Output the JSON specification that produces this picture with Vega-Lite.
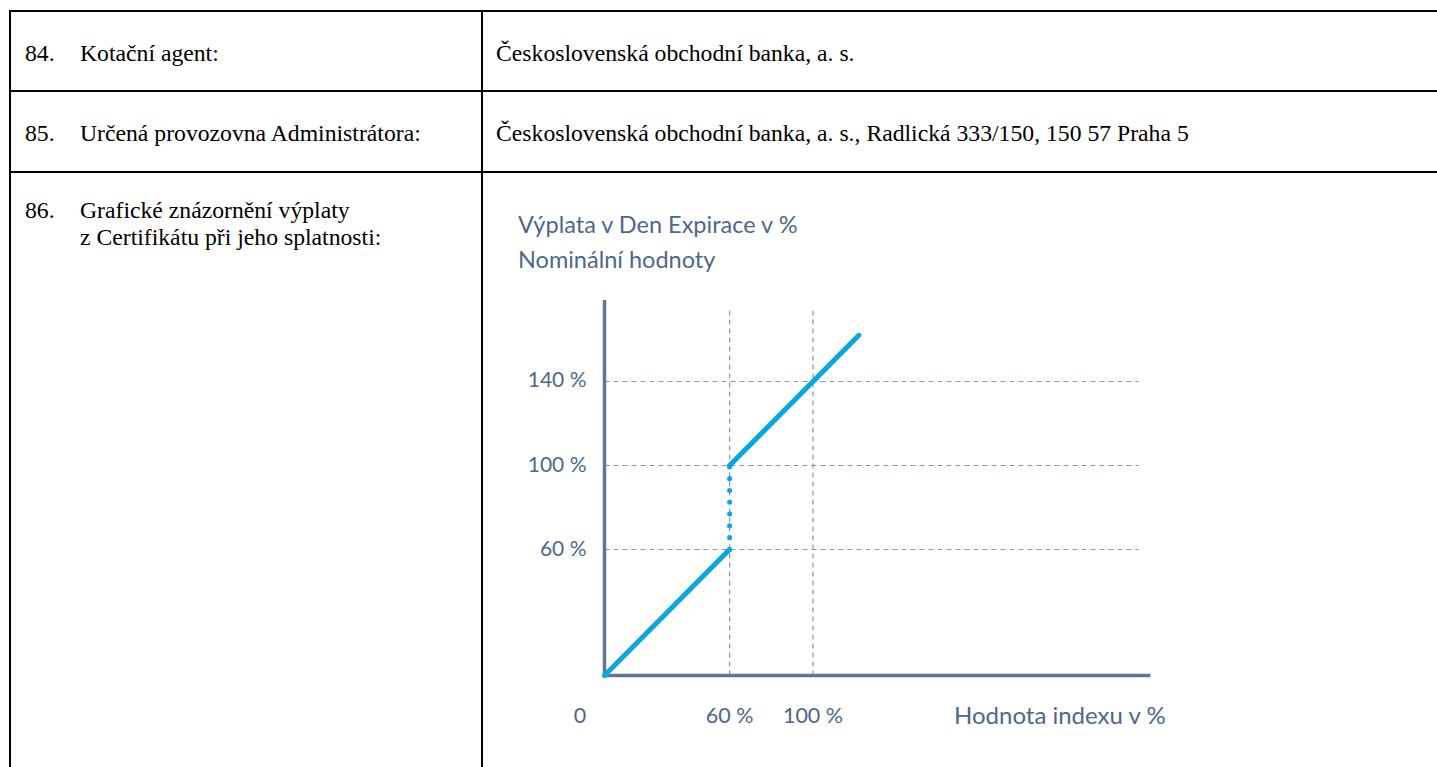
{
  "$schema": "https://vega.github.io/schema/vega-lite/v6.json",
  "padding": {"left": 9, "top": 10, "right": 0, "bottom": 0},
  "background": "white",
  "columns": 2,
  "spacing": 0,
  "bounds": "flush",
  "align": "each",
  "config": {
    "view": {"stroke": "black", "strokeWidth": 2, "fill": "white"},
    "concat": {"spacing": 0}
  },
  "datasets": {
    "grid_h": [
      {"pct": 60, "from": 0, "to": 256},
      {"pct": 100, "from": 0, "to": 256},
      {"pct": 140, "from": 0, "to": 256}
    ],
    "grid_v": [
      {"pct": 60, "from": 0, "to": 174},
      {"pct": 100, "from": 0, "to": 174}
    ],
    "axes": [
      {"axis": "x", "x": 0, "y": 0, "x2": 261, "y2": 0, "title": "Hodnota indexu v %"},
      {"axis": "y", "x": 0, "y": 0, "x2": 0, "y2": 178, "title": ["Výplata v Den Expirace v %", "Nominální hodnoty"]}
    ],
    "payoff": [
      {"index": 0, "payout": 0, "part": "below"},
      {"index": 60, "payout": 60, "part": "below"},
      {"index": 60, "payout": 100, "part": "above"},
      {"index": 122, "payout": 162, "part": "above"}
    ],
    "jump": [
      {"index": 60, "payout": 60},
      {"index": 60, "payout": 100}
    ],
    "ylabels": [
      {"pct": 60, "label": "60 %"},
      {"pct": 100, "label": "100 %"},
      {"pct": 140, "label": "140 %"}
    ],
    "xlabels": [
      {"pct": 60, "label": "60 %"},
      {"pct": 100, "label": "100 %"}
    ],
    "origin": [{"pct": 0, "label": "0"}]
  },
  "concat": [
    {
      "width": 472, "height": 80,
      "view": {"stroke": "black", "strokeWidth": 2, "fill": "white"},
      "data": {"values": [{"num": "84.", "label": "Kotační agent:"}]},
      "layer": [
        {"mark": {"type": "text", "x": 15, "y": 50, "align": "left", "baseline": "alphabetic", "font": "Liberation Serif", "fontSize": 23.7, "color": "black"}, "encoding": {"text": {"field": "num"}}},
        {"mark": {"type": "text", "x": 70, "y": 50, "align": "left", "baseline": "alphabetic", "font": "Liberation Serif", "fontSize": 23.7, "color": "black"}, "encoding": {"text": {"field": "label"}}}
      ]
    },
    {
      "width": 960, "height": 80,
      "view": {"stroke": "black", "strokeWidth": 2, "fill": "white"},
      "data": {"values": [{"value": "Československá obchodní banka, a. s."}]},
      "mark": {"type": "text", "x": 14, "y": 50, "align": "left", "baseline": "alphabetic", "font": "Liberation Serif", "fontSize": 23.7, "color": "black"},
      "encoding": {"text": {"field": "value"}}
    },
    {
      "width": 472, "height": 81,
      "view": {"stroke": "black", "strokeWidth": 2, "fill": "white"},
      "data": {"values": [{"num": "85.", "label": "Určená provozovna Administrátora:"}]},
      "layer": [
        {"mark": {"type": "text", "x": 15, "y": 50, "align": "left", "baseline": "alphabetic", "font": "Liberation Serif", "fontSize": 23.7, "color": "black"}, "encoding": {"text": {"field": "num"}}},
        {"mark": {"type": "text", "x": 70, "y": 50, "align": "left", "baseline": "alphabetic", "font": "Liberation Serif", "fontSize": 23.7, "color": "black"}, "encoding": {"text": {"field": "label"}}}
      ]
    },
    {
      "width": 960, "height": 81,
      "view": {"stroke": "black", "strokeWidth": 2, "fill": "white"},
      "data": {"values": [{"value": "Československá obchodní banka, a. s., Radlická 333/150, 150 57 Praha 5"}]},
      "mark": {"type": "text", "x": 14, "y": 50, "align": "left", "baseline": "alphabetic", "font": "Liberation Serif", "fontSize": 23.7, "color": "black"},
      "encoding": {"text": {"field": "value"}}
    },
    {
      "width": 472, "height": 600,
      "view": {"stroke": "black", "strokeWidth": 2, "fill": "white"},
      "data": {"values": [{"num": "86.", "label": ["Grafické znázornění výplaty", "z Certifikátu při jeho splatnosti:"]}]},
      "layer": [
        {"mark": {"type": "text", "x": 15, "y": 46, "align": "left", "baseline": "alphabetic", "font": "Liberation Serif", "fontSize": 23.7, "color": "black"}, "encoding": {"text": {"field": "num"}}},
        {"mark": {"type": "text", "x": 70, "y": 46, "align": "left", "baseline": "alphabetic", "font": "Liberation Serif", "fontSize": 23.7, "lineHeight": 26.5, "color": "black"}, "encoding": {"text": {"field": "label"}}}
      ]
    },
    {
      "width": 960, "height": 600,
      "view": {"stroke": "black", "strokeWidth": 2, "fill": "white"},
      "layer": [
        {
          "data": {"name": "grid_h"},
          "mark": {"type": "rule", "color": "#8496b3", "strokeWidth": 1.2, "strokeDash": [5, 4]},
          "encoding": {
            "y": {"field": "pct", "type": "quantitative", "scale": {"domain": [-45.95, 239.76], "nice": false, "zero": false}, "axis": null},
            "x": {"field": "from", "type": "quantitative", "scale": {"domain": [-58.75, 401.68], "nice": false, "zero": false}, "axis": null},
            "x2": {"field": "to"}
          }
        },
        {
          "data": {"name": "grid_v"},
          "mark": {"type": "rule", "color": "#8496b3", "strokeWidth": 1.2, "strokeDash": [5, 4]},
          "encoding": {
            "x": {"field": "pct", "type": "quantitative", "scale": {"domain": [-58.75, 401.68], "nice": false, "zero": false}, "axis": null},
            "y": {"field": "from", "type": "quantitative", "scale": {"domain": [-45.95, 239.76], "nice": false, "zero": false}, "axis": null},
            "y2": {"field": "to"}
          }
        },
        {
          "data": {"name": "axes"},
          "mark": {"type": "rule", "color": "#5e7796", "strokeWidth": 3.5, "strokeCap": "square"},
          "encoding": {
            "x": {"field": "x", "type": "quantitative", "scale": {"domain": [-58.75, 401.68], "nice": false, "zero": false}, "axis": null},
            "y": {"field": "y", "type": "quantitative", "scale": {"domain": [-45.95, 239.76], "nice": false, "zero": false}, "axis": null},
            "x2": {"field": "x2"},
            "y2": {"field": "y2"}
          }
        },
        {
          "data": {"name": "jump"},
          "mark": {"type": "line", "color": "#0aa6e2", "strokeWidth": 5, "strokeCap": "round", "strokeDash": [0.1, 11.7]},
          "encoding": {
            "x": {"field": "index", "type": "quantitative", "scale": {"domain": [-58.75, 401.68], "nice": false, "zero": false}, "axis": null},
            "y": {"field": "payout", "type": "quantitative", "scale": {"domain": [-45.95, 239.76], "nice": false, "zero": false}, "axis": null}
          }
        },
        {
          "data": {"name": "payoff"},
          "mark": {"type": "line", "color": "#0aa6e2", "strokeWidth": 5, "strokeCap": "round"},
          "encoding": {
            "x": {"field": "index", "type": "quantitative", "scale": {"domain": [-58.75, 401.68], "nice": false, "zero": false}, "axis": null},
            "y": {"field": "payout", "type": "quantitative", "scale": {"domain": [-45.95, 239.76], "nice": false, "zero": false}, "axis": null},
            "detail": {"field": "part"}
          }
        },
        {
          "data": {"name": "ylabels"},
          "mark": {"type": "text", "align": "right", "baseline": "middle", "dx": -18, "font": "Lato", "fontSize": 21, "color": "#4f6789"},
          "encoding": {
            "x": {"datum": 0, "type": "quantitative", "scale": {"domain": [-58.75, 401.68], "nice": false, "zero": false}, "axis": null},
            "y": {"field": "pct", "type": "quantitative", "scale": {"domain": [-45.95, 239.76], "nice": false, "zero": false}, "axis": null},
            "text": {"field": "label"}
          }
        },
        {
          "data": {"name": "xlabels"},
          "mark": {"type": "text", "align": "center", "baseline": "middle", "dy": 41.5, "font": "Lato", "fontSize": 21.5, "color": "#4f6789"},
          "encoding": {
            "x": {"field": "pct", "type": "quantitative", "scale": {"domain": [-58.75, 401.68], "nice": false, "zero": false}, "axis": null},
            "y": {"datum": 0, "type": "quantitative", "scale": {"domain": [-45.95, 239.76], "nice": false, "zero": false}, "axis": null},
            "text": {"field": "label"}
          }
        },
        {
          "data": {"name": "origin"},
          "mark": {"type": "text", "align": "center", "baseline": "middle", "dy": 41.5, "dx": -24.5, "font": "Lato", "fontSize": 21.5, "color": "#4f6789"},
          "encoding": {
            "x": {"field": "pct", "type": "quantitative", "scale": {"domain": [-58.75, 401.68], "nice": false, "zero": false}, "axis": null},
            "y": {"field": "pct", "type": "quantitative", "scale": {"domain": [-45.95, 239.76], "nice": false, "zero": false}, "axis": null},
            "text": {"field": "label"}
          }
        },
        {
          "data": {"name": "axes"},
          "transform": [{"filter": "datum.axis === 'x'"}],
          "mark": {"type": "text", "align": "right", "baseline": "middle", "dy": 41.5, "dx": 17, "font": "Lato", "fontSize": 24, "color": "#4f6789"},
          "encoding": {
            "x": {"field": "x2", "type": "quantitative", "scale": {"domain": [-58.75, 401.68], "nice": false, "zero": false}, "axis": null},
            "y": {"field": "y2", "type": "quantitative", "scale": {"domain": [-45.95, 239.76], "nice": false, "zero": false}, "axis": null},
            "text": {"field": "title"}
          }
        },
        {
          "data": {"name": "axes"},
          "transform": [{"filter": "datum.axis === 'y'"}],
          "mark": {"type": "text", "align": "left", "baseline": "alphabetic", "dy": -68.7, "dx": -86.5, "lineHeight": 35, "font": "Lato", "fontSize": 23.5, "color": "#4f6789"},
          "encoding": {
            "x": {"field": "x2", "type": "quantitative", "scale": {"domain": [-58.75, 401.68], "nice": false, "zero": false}, "axis": null},
            "y": {"field": "y2", "type": "quantitative", "scale": {"domain": [-45.95, 239.76], "nice": false, "zero": false}, "axis": null},
            "text": {"field": "title"}
          }
        }
      ]
    }
  ]
}
